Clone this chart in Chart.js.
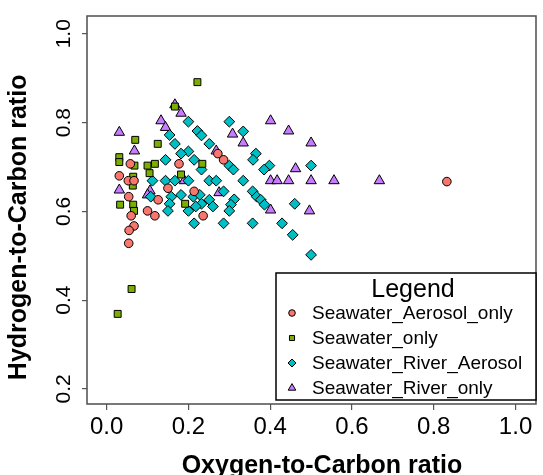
<!DOCTYPE html>
<html>
<head>
<meta charset="utf-8">
<script src="https://cdn.jsdelivr.net/npm/chart.js@4/dist/chart.umd.min.js"></script>
<style>
  html, body { margin: 0; padding: 0; background: #ffffff; }
  #wrap { width: 543px; height: 475px; }
</style>
</head>
<body>
<div id="wrap"><canvas id="chart-oc" width="543" height="475"></canvas></div>
<script>
// series names (legend order)
var seriesNames = ["Seawater_Aerosol_only", "Seawater_only", "Seawater_River_Aerosol", "Seawater_River_only"];

// O/C and H/C values
var aerosolOnlyOC = [0.058, 0.031, 0.053, 0.067, 0.054, 0.177, 0.272, 0.286, 0.150, 0.214, 0.126, 0.100, 0.118, 0.060, 0.067, 0.055, 0.054, 0.236, 0.832];
var aerosolOnlyHC = [0.707, 0.680, 0.669, 0.669, 0.633, 0.707, 0.730, 0.716, 0.652, 0.645, 0.626, 0.601, 0.590, 0.590, 0.567, 0.557, 0.528, 0.590, 0.667];

var seawaterOnlyOC = [0.222, 0.167, 0.070, 0.125, 0.031, 0.031, 0.068, 0.100, 0.118, 0.105, 0.234, 0.182, 0.065, 0.064, 0.033, 0.065, 0.067, 0.192, 0.061, 0.027];
var seawaterOnlyHC = [0.891, 0.836, 0.761, 0.752, 0.722, 0.711, 0.703, 0.703, 0.707, 0.686, 0.707, 0.683, 0.678, 0.658, 0.615, 0.615, 0.601, 0.617, 0.425, 0.369];

var riverAerosolOC = [0.200, 0.300, 0.154, 0.222, 0.232, 0.334, 0.167, 0.251, 0.200, 0.182, 0.365, 0.144, 0.214, 0.358, 0.300, 0.398, 0.310, 0.385, 0.232,
                      0.112, 0.144, 0.167, 0.200, 0.251, 0.268, 0.334, 0.286, 0.357, 0.108, 0.158, 0.182, 0.212, 0.228, 0.251, 0.154, 0.232, 0.260,
                      0.218, 0.312, 0.304, 0.300, 0.150, 0.200, 0.367, 0.377, 0.386, 0.460, 0.214, 0.286, 0.357, 0.429, 0.455, 0.500, 0.500];
var riverAerosolHC = [0.802, 0.802, 0.772, 0.781, 0.771, 0.780, 0.752, 0.752, 0.735, 0.730, 0.730, 0.716, 0.716, 0.716, 0.703, 0.703, 0.694, 0.694, 0.694,
                      0.669, 0.669, 0.669, 0.669, 0.669, 0.669, 0.669, 0.645, 0.645, 0.633, 0.633, 0.637, 0.633, 0.637, 0.626, 0.617, 0.617, 0.611,
                      0.611, 0.627, 0.615, 0.601, 0.601, 0.601, 0.633, 0.626, 0.615, 0.617, 0.573, 0.573, 0.573, 0.573, 0.547, 0.703, 0.502];

var riverOnlyOC = [0.031, 0.133, 0.144, 0.167, 0.182, 0.068, 0.308, 0.334, 0.401, 0.445, 0.268, 0.190, 0.401, 0.417, 0.445, 0.500, 0.556, 0.667,
                   0.462, 0.500, 0.031, 0.106, 0.100, 0.275, 0.401, 0.496];
var riverOnlyHC = [0.778, 0.804, 0.789, 0.840, 0.821, 0.736, 0.774, 0.754, 0.804, 0.781, 0.736, 0.669, 0.669, 0.669, 0.669, 0.669, 0.669, 0.669,
                   0.696, 0.754, 0.648, 0.646, 0.637, 0.642, 0.603, 0.601];

// tick labels
var xTickValues = [0.0, 0.2, 0.4, 0.6, 0.8, 1.0];
var yTickValues = [0.2, 0.4, 0.6, 0.8, 1.0];

var fontFamily = '"Liberation Sans", Arial, Helvetica, sans-serif';

function toPoints(xs, ys) {
    return xs.map(function (x, i) { return { x: x, y: ys[i] }; });
}

var markerStyles = [
    { pointStyle: 'circle',   radius: 4.3, legendRadius: 3.3, color: '#F8766D' },
    { pointStyle: 'rect',     radius: 4.9, legendRadius: 3.6, color: '#7CAE00' },
    { pointStyle: 'rectRot',  radius: 5.4, legendRadius: 4,   color: '#00BFC4' },
    { pointStyle: 'triangle', radius: 6,   legendRadius: 4.4, color: '#C77CFF' }
];
var seriesData = [
    toPoints(aerosolOnlyOC, aerosolOnlyHC),
    toPoints(seawaterOnlyOC, seawaterOnlyHC),
    toPoints(riverAerosolOC, riverAerosolHC),
    toPoints(riverOnlyOC, riverOnlyHC)
];

// box around the plot region, like R's bty = "o"
var plotBox = {
    id: 'plotBox',
    afterDatasetsDraw: function (chart) {
        var a = chart.chartArea, ctx = chart.ctx;
        ctx.save();
        ctx.strokeStyle = '#4d4d4d';
        ctx.lineWidth = 1.5;
        ctx.strokeRect(a.left, a.top, a.right - a.left, a.bottom - a.top);
        ctx.restore();
    }
};

// legend box in the lower right corner of the plot
var legendBox = {
    id: 'legendBox',
    afterDraw: function (chart) {
        var ctx = chart.ctx;
        var left = 276, top = 273, right = 536, bottom = 400;
        ctx.save();
        ctx.fillStyle = '#ffffff';
        ctx.fillRect(left, top, right - left, bottom - top);
        ctx.strokeStyle = '#000000';
        ctx.lineWidth = 1.5;
        ctx.strokeRect(left, top, right - left, bottom - top);

        ctx.fillStyle = '#000000';
        ctx.font = '25px ' + fontFamily;
        ctx.textAlign = 'center';
        ctx.textBaseline = 'alphabetic';
        ctx.fillText('Legend', 413, 297);

        chart.data.datasets.forEach(function (ds, i) {
            var y = 313 + i * 25;
            ctx.fillStyle = ds.backgroundColor;
            ctx.strokeStyle = '#000000';
            ctx.lineWidth = 1;
            Chart.helpers.drawPoint(ctx, {
                pointStyle: ds.pointStyle,
                radius: markerStyles[i].legendRadius,
                borderWidth: 1,
                rotation: 0
            }, 292, y);
            ctx.fillStyle = '#000000';
            ctx.font = '19px ' + fontFamily;
            ctx.textAlign = 'left';
            ctx.textBaseline = 'middle';
            ctx.fillText(ds.label, 312, y + 1);
        });
        ctx.restore();
    }
};

var ctx = document.getElementById('chart-oc').getContext('2d');
var chart = new Chart(ctx, {
    type: 'scatter',
    data: {
        datasets: seriesNames.map(function (name, i) {
            return {
                label: name,
                data: seriesData[i],
                pointStyle: markerStyles[i].pointStyle,
                pointRadius: markerStyles[i].radius,
                pointHoverRadius: markerStyles[i].radius,
                backgroundColor: markerStyles[i].color,
                borderColor: '#000000',
                borderWidth: 1
            };
        })
    },
    options: {
        responsive: false,
        animation: false,
        devicePixelRatio: 1,
        layout: { padding: { left: 0, right: 2, top: 16, bottom: 0 } },
        plugins: {
            legend: { display: false },
            tooltip: { enabled: false }
        },
        scales: {
            x: {
                type: 'linear',
                min: -0.048,
                max: 1.05,
                afterBuildTicks: function (scale) {
                    scale.ticks = xTickValues.map(function (v) { return { value: v }; });
                },
                afterFit: function (scale) { scale.height = 71; },
                border: { display: false },
                grid: { drawOnChartArea: false, drawTicks: true, tickLength: 6, tickColor: '#555555', lineWidth: 1.2 },
                ticks: {
                    color: '#000000',
                    font: { family: fontFamily, size: 24 },
                    padding: 3,
                    maxRotation: 0,
                    callback: function (v) { return v.toFixed(1); }
                },
                title: {
                    display: true,
                    text: '   Oxygen-to-Carbon ratio',
                    color: '#000000',
                    font: { family: fontFamily, size: 25, weight: 'bold', lineHeight: 0.7 },
                    padding: { top: 0, bottom: 0 }
                }
            },
            y: {
                type: 'linear',
                min: 0.166,
                max: 1.04,
                afterBuildTicks: function (scale) {
                    scale.ticks = yTickValues.map(function (v) { return { value: v }; });
                },
                afterFit: function (scale) { scale.width = 87; },
                border: { display: false },
                grid: { drawOnChartArea: false, drawTicks: true, tickLength: 5, tickColor: '#555555', lineWidth: 1.2 },
                ticks: {
                    color: '#000000',
                    font: { family: fontFamily, size: 21 },
                    padding: 3,
                    minRotation: 90,
                    maxRotation: 90,
                    crossAlign: 'center',
                    callback: function (v) { return v.toFixed(1); }
                },
                title: {
                    display: true,
                    text: 'Hydrogen-to-Carbon ratio     ',
                    color: '#000000',
                    font: { family: fontFamily, size: 25, weight: 'bold' },
                    padding: { top: 4.5, bottom: 0 }
                }
            }
        }
    },
    plugins: [plotBox, legendBox]
});
</script>
</body>
</html>
